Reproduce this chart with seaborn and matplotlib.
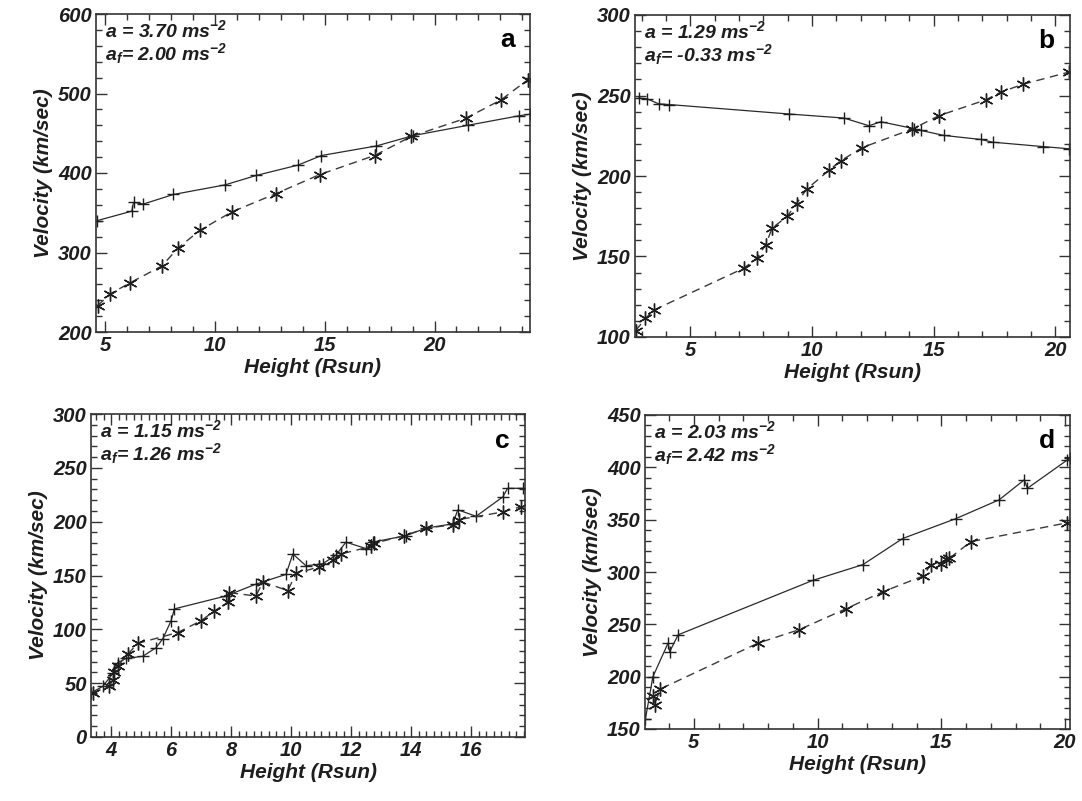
import matplotlib
matplotlib.use("Agg")
import matplotlib.pyplot as plt
import seaborn as sns
import numpy as np
import pandas as pd
from matplotlib.ticker import MultipleLocator

# ---------------- data ----------------
# panel a
a_h_solid = [4.62, 6.21, 6.29, 6.74, 8.11, 10.45, 11.89, 13.79, 14.85, 17.35, 19.02, 21.52, 23.86, 24.35]
a_v_solid = [340, 352, 363, 361, 373, 385, 397, 410, 422, 434, 447, 460, 472, 474]
a_h_dash = [4.65, 5.23, 6.14, 7.58, 8.33, 9.32, 10.76, 12.77, 14.77, 17.27, 18.94, 21.44, 23.03, 24.24]
a_v_dash = [233, 248, 262, 283, 306, 328, 351, 374, 398, 422, 446, 469, 492, 517]

# panel b
b_h_solid = [2.87, 3.22, 3.70, 4.11, 9.05, 11.31, 12.34, 12.82, 14.19, 14.47, 15.42, 16.93, 17.42, 19.47, 20.57]
b_v_solid = [248.5, 247.9, 244.8, 244.4, 238.5, 236.0, 231.2, 233.7, 229.4, 228.3, 225.2, 222.7, 221.0, 218.3, 216.9]
b_h_dash = [2.75, 3.15, 3.49, 7.19, 7.74, 8.09, 8.36, 8.98, 9.36, 9.77, 10.69, 11.17, 12.07, 14.12, 15.22, 17.14, 17.76, 18.65, 20.57]
b_v_dash = [104.0, 111.5, 116.7, 142.7, 149.0, 157.3, 167.7, 175.0, 182.9, 191.7, 203.5, 209.4, 217.7, 229.2, 237.5, 247.3, 252.1, 256.9, 264.6]

# panel c
c_h_solid = [3.33, 3.72, 4.06, 4.22, 4.50, 5.06, 5.50, 5.72, 6.00, 6.11, 7.83, 8.83, 9.83, 10.06, 10.50, 11.06,
             11.50, 11.83, 12.50, 12.72, 13.83, 14.50, 15.39, 15.56, 16.17, 17.06, 17.22, 17.72]
c_v_solid = [41, 47, 59, 69, 73, 75, 83, 91, 108, 119, 131, 142, 151, 170, 159, 161,
             169, 181, 175, 181, 187, 194, 198, 211, 205, 223, 231, 231]
c_h_dash = [3.39, 3.94, 4.06, 4.11, 4.22, 4.56, 4.89, 6.22, 7.00, 7.44, 7.89, 7.94, 8.83, 9.06, 9.89, 10.17,
            10.94, 11.39, 11.67, 12.67, 12.78, 13.78, 14.50, 15.39, 15.61, 17.06, 17.67]
c_v_dash = [41, 47, 53, 60, 66, 77, 87, 97, 108, 117, 125, 134, 131, 144, 136, 152,
            158, 164, 170, 177, 180, 187, 194, 197, 202, 209, 214]

# panel d
d_h_solid = [3.05, 3.35, 3.96, 4.03, 4.37, 9.81, 11.83, 13.44, 15.59, 17.34, 18.35, 18.48, 20.09, 20.2]
d_v_solid = [160, 200, 232, 224, 240, 292, 307, 332, 351, 369, 388, 380, 407, 409]
d_h_dash = [3.36, 3.43, 3.63, 7.59, 9.27, 11.16, 12.63, 14.25, 14.58, 14.99, 15.19, 15.32, 16.20, 20.09]
d_v_dash = [182, 173, 188, 232, 245, 265, 281, 296, 307, 308, 312, 313, 329, 347]

panel_letters = ["a", "b", "c", "d"]
accel_text = [("3.70", "2.00"), ("1.29", "-0.33"), ("1.15", "1.26"), ("2.03", "2.42")]
x_label = "Height (Rsun)"
y_label = "Velocity (km/sec)"

# ---------------- style ----------------
sns.set_style("ticks")
plt.rcParams["font.family"] = ["Liberation Sans", "DejaVu Sans"]
plt.rcParams["mathtext.fontset"] = "custom"
plt.rcParams["mathtext.rm"] = "Liberation Sans:bold:italic"
plt.rcParams["mathtext.it"] = "Liberation Sans:bold:italic"
plt.rcParams["mathtext.bf"] = "Liberation Sans:bold:italic"

W, H = 1082, 801
fig = plt.figure(figsize=(W / 100, H / 100), dpi=100)

# pixel boxes: left, right, top, bottom
boxes = [(96, 530, 14, 332), (635, 1070, 15, 337), (91, 525, 414, 737), (645, 1070, 415, 729)]
xlims = [(4.58, 24.35), (2.72, 20.6), (3.33, 17.8), (3.03, 20.2)]
ylims = [(200, 600), (100, 300), (0, 300), (150, 450)]
xmajor = [5, 5, 2, 5]
xminor = [1, 1, 0.25, 1]
ymajor = [100, 50, 50, 50]
yminor = [20, 10, 10, 10]

data = [
    (a_h_solid, a_v_solid, a_h_dash, a_v_dash),
    (b_h_solid, b_v_solid, b_h_dash, b_v_dash),
    (c_h_solid, c_v_solid, c_h_dash, c_v_dash),
    (d_h_solid, d_v_solid, d_h_dash, d_v_dash),
]

ink = "#1e1e1e"
lab_font = dict(fontsize=15, fontweight="bold", fontstyle="italic", color=ink)

for i, (box, (hs, vs, hd, vd)) in enumerate(zip(boxes, data)):
    l, r, t, b = box
    ax = fig.add_axes([l / W, 1 - b / H, (r - l) / W, (b - t) / H])
    sns.lineplot(x=hs, y=vs, ax=ax, sort=False, estimator=None, color="#2a2a2a", lw=0.9,
                 marker="+", markersize=8, markeredgewidth=1.0, markeredgecolor=ink,
                 clip_on=True)
    sns.lineplot(x=hd, y=vd, ax=ax, sort=False, estimator=None, color="#3a3a3a", lw=1.0,
                 linestyle=(0, (6, 4)), marker=(6, 2, 0), markersize=10,
                 markeredgewidth=1.0, markeredgecolor=ink, clip_on=True)
    ax.set_xlim(*xlims[i])
    ax.set_ylim(*ylims[i])
    ax.xaxis.set_major_locator(MultipleLocator(xmajor[i]))
    ax.xaxis.set_minor_locator(MultipleLocator(xminor[i]))
    ax.yaxis.set_major_locator(MultipleLocator(ymajor[i]))
    ax.yaxis.set_minor_locator(MultipleLocator(yminor[i]))
    ax.tick_params(which="both", direction="in", top=True, right=True, bottom=True, left=True,
                   color="#333333", width=1.0)
    ax.tick_params(which="major", length=8, labelsize=14.5, pad=3, labelcolor=ink)
    ax.tick_params(which="minor", length=4)
    for lab in ax.get_xticklabels() + ax.get_yticklabels():
        lab.set_fontweight("bold")
        lab.set_fontstyle("italic")
    for sp in ax.spines.values():
        sp.set_color("#333333")
        sp.set_linewidth(1.2)
    ax.set_xlabel(x_label, labelpad=2, **lab_font)
    ax.set_ylabel(y_label, labelpad=4, **lab_font)
    a_val, af_val = accel_text[i]
    ax.text(0.02, 0.985, f"a = {a_val} ms$^{{-2}}$\na$_f$= {af_val} ms$^{{-2}}$",
            transform=ax.transAxes, ha="left", va="top", fontsize=14,
            fontweight="bold", fontstyle="italic", color=ink, linespacing=1.0)
    ax.text(0.965, 0.955, panel_letters[i], transform=ax.transAxes, ha="right", va="top",
            fontsize=19, fontweight="bold", color="black")
    ax.grid(False)

fig.savefig("out.png", dpi=100, facecolor="white")
